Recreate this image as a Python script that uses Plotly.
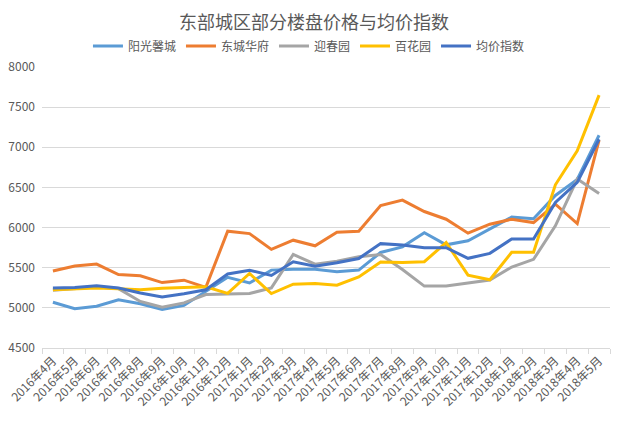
import plotly.graph_objects as go

months = (["2016年%d月" % m for m in range(4, 13)]
          + ["2017年%d月" % m for m in range(1, 13)]
          + ["2018年%d月" % m for m in range(1, 6)])

yangguang = [5070, 4990, 5020, 5100, 5050, 4980, 5030, 5210, 5380, 5310, 5470, 5480, 5480,
             5450, 5470, 5690, 5760, 5935, 5785, 5835, 5980, 6130, 6110, 6400, 6600, 7150]
dongcheng = [5460, 5520, 5545, 5415, 5400, 5315, 5345, 5255, 5955, 5925, 5728, 5843, 5773,
             5943, 5955, 6275, 6342, 6200, 6104, 5930, 6042, 6104, 6062, 6292, 6050, 7090]
yingchun = [5220, 5240, 5260, 5240, 5080, 5008, 5062, 5165, 5170, 5178, 5249, 5665, 5544,
            5582, 5636, 5665, 5478, 5271, 5271, 5304, 5346, 5508, 5604, 6021, 6604, 6425]
baihua = [5226, 5234, 5247, 5239, 5226, 5243, 5255, 5262, 5180, 5428, 5178, 5295, 5303,
          5282, 5386, 5570, 5565, 5575, 5813, 5408, 5350, 5692, 5692, 6533, 6955, 7650]
junjia = [5247, 5255, 5276, 5247, 5185, 5136, 5177, 5226, 5422, 5469, 5403, 5573, 5519,
          5561, 5615, 5800, 5784, 5750, 5750, 5617, 5679, 5858, 5858, 6312, 6562, 7100]

series = [
    ("阳光馨城", yangguang, "#5B9BD5"),
    ("东城华府", dongcheng, "#ED7D31"),
    ("迎春园", yingchun, "#A5A5A5"),
    ("百花园", baihua, "#FFC000"),
    ("均价指数", junjia, "#4472C4"),
]

FONT = "Noto Sans CJK SC, sans-serif"
W, H = 624, 424
OFF = 8  # page body margin offset
T, B, L, R = 67 - OFF, 76 + OFF, 42 - OFF, 14 + OFF
PH = H - T - B

fig = go.Figure()
for name, vals, color in series:
    fig.add_trace(go.Scatter(x=months, y=vals, name=name, mode="lines",
                             line=dict(color=color, width=3)))

fig.update_layout(
    width=W, height=H,
    margin=dict(l=L, r=R, t=T, b=B, autoexpand=False),
    paper_bgcolor="white", plot_bgcolor="white",
    font=dict(family=FONT, size=12, color="#595959"),
    title=dict(text="东部城区部分楼盘价格与均价指数", x=(314 - OFF) / W, xref="container",
               y=1 - 8 / H, yref="container", yanchor="top",
               font=dict(size=18, color="#595959", family=FONT)),
    legend=dict(orientation="h", x=0.47, xanchor="center", xref="paper",
                y=1 + (67 - 46) / PH, yref="paper", yanchor="middle",
                font=dict(size=12, color="#595959"), itemwidth=30,
                bgcolor="rgba(0,0,0,0)"),
    showlegend=True,
)
fig.update_xaxes(type="category", range=[-0.5, 25.5], tickangle=-45, automargin=False,
                 showgrid=False, showline=True, linecolor="#D9D9D9", linewidth=1,
                 ticks="outside", tickson="boundaries", ticklen=5, tickcolor="#D9D9D9",
                 tickfont=dict(size=12, color="#595959"))
fig.update_yaxes(range=[4500, 8000], dtick=500, showgrid=True, gridcolor="#D9D9D9",
                 gridwidth=1, zeroline=False, showline=False, ticks="", automargin=False,
                 ticklabelstandoff=6, tickfont=dict(size=12, color="#595959"))

fig.write_html("out.html")
